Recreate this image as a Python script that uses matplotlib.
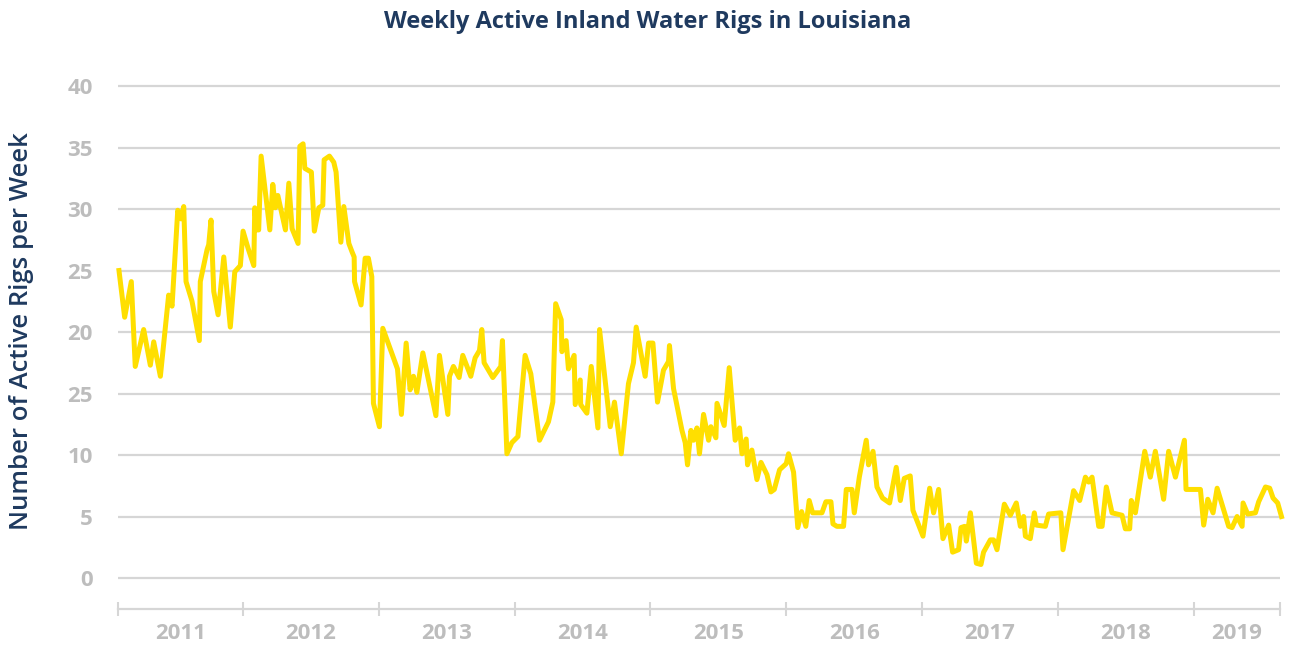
import matplotlib
matplotlib.use("Agg")
import matplotlib.pyplot as plt
import numpy as np

# ---- data (decimal year, active rigs) ----
dates = [
    2011.084, 2011.128, 2011.177, 2011.206, 2011.268, 2011.317, 2011.342, 2011.391,
    2011.452, 2011.477, 2011.519, 2011.543, 2011.563, 2011.580, 2011.624, 2011.678,
    2011.685, 2011.735, 2011.747, 2011.764, 2011.784, 2011.816, 2011.858, 2011.906,
    2011.939, 2011.980, 2012.000, 2012.037, 2012.079, 2012.086, 2012.100, 2012.115,
    2012.133, 2012.197, 2012.219, 2012.238, 2012.256, 2012.312, 2012.337, 2012.361,
    2012.405, 2012.418, 2012.442, 2012.455, 2012.503, 2012.525, 2012.558, 2012.587,
    2012.597, 2012.636, 2012.668, 2012.685, 2012.720, 2012.742, 2012.779, 2012.803,
    2012.818, 2012.821, 2012.869, 2012.899, 2012.923, 2012.948, 2012.960, 2013.004,
    2013.029, 2013.078, 2013.137, 2013.166, 2013.201, 2013.230, 2013.255, 2013.280,
    2013.324, 2013.420, 2013.446, 2013.508, 2013.520, 2013.549, 2013.591, 2013.618,
    2013.677, 2013.709, 2013.741, 2013.758, 2013.775, 2013.839, 2013.898, 2013.910,
    2013.943, 2013.979, 2014.024, 2014.077, 2014.119, 2014.183, 2014.249, 2014.281,
    2014.302, 2014.343, 2014.348, 2014.379, 2014.396, 2014.438, 2014.446, 2014.483,
    2014.486, 2014.532, 2014.564, 2014.613, 2014.625, 2014.704, 2014.735, 2014.785,
    2014.838, 2014.875, 2014.895, 2014.961, 2014.986, 2015.018, 2015.052, 2015.096,
    2015.133, 2015.140, 2015.170, 2015.232, 2015.256, 2015.273, 2015.298, 2015.317,
    2015.342, 2015.361, 2015.391, 2015.428, 2015.445, 2015.482, 2015.490, 2015.543,
    2015.580, 2015.624, 2015.656, 2015.674, 2015.705, 2015.715, 2015.747, 2015.784,
    2015.814, 2015.858, 2015.887, 2015.912, 2015.951, 2016.000, 2016.017, 2016.054,
    2016.085, 2016.113, 2016.144, 2016.169, 2016.194, 2016.263, 2016.292, 2016.329,
    2016.344, 2016.373, 2016.422, 2016.442, 2016.484, 2016.501, 2016.538, 2016.589,
    2016.606, 2016.639, 2016.668, 2016.709, 2016.761, 2016.810, 2016.840, 2016.869,
    2016.913, 2016.933, 2017.007, 2017.056, 2017.085, 2017.122, 2017.154, 2017.196,
    2017.225, 2017.269, 2017.287, 2017.314, 2017.326, 2017.356, 2017.400, 2017.434,
    2017.453, 2017.503, 2017.527, 2017.552, 2017.606, 2017.650, 2017.694, 2017.724,
    2017.748, 2017.761, 2017.797, 2017.827, 2017.842, 2017.908, 2017.932, 2018.022,
    2018.038, 2018.116, 2018.161, 2018.203, 2018.227, 2018.252, 2018.301, 2018.326,
    2018.357, 2018.399, 2018.473, 2018.497, 2018.529, 2018.541, 2018.571, 2018.640,
    2018.681, 2018.718, 2018.779, 2018.816, 2018.866, 2018.932, 2018.944, 2019.050,
    2019.074, 2019.104, 2019.143, 2019.173, 2019.258, 2019.283, 2019.320, 2019.357,
    2019.364, 2019.398, 2019.455, 2019.479, 2019.529, 2019.560, 2019.585, 2019.619,
    2019.652,
]
rigs = [
    25.2, 21.2, 24.1, 17.2, 20.2, 17.3, 19.2, 16.4,
    23.0, 22.1, 29.9, 29.2, 30.2, 24.1, 22.5, 19.3,
    24.1, 26.7, 27.1, 29.1, 23.3, 21.4, 26.1, 20.4,
    24.9, 25.4, 28.2, 26.8, 25.4, 30.1, 28.3, 28.3,
    34.3, 28.3, 32.0, 30.1, 31.1, 28.3, 32.1, 28.4,
    27.2, 35.1, 35.3, 33.3, 33.0, 28.2, 30.1, 30.3,
    34.0, 34.3, 33.8, 33.0, 27.3, 30.2, 27.2, 26.5,
    26.1, 24.1, 22.2, 26.0, 26.0, 24.5, 14.2, 12.3,
    20.3, 18.8, 17.0, 13.3, 19.1, 15.3, 16.4, 15.1,
    18.3, 13.2, 18.1, 13.3, 16.4, 17.2, 16.3, 18.1,
    16.4, 17.9, 18.5, 20.2, 17.5, 16.3, 17.2, 19.3,
    10.1, 11.0, 11.5, 18.1, 16.6, 11.2, 12.7, 14.3,
    22.3, 21.0, 18.4, 19.3, 17.0, 18.1, 14.1, 16.1,
    14.1, 13.4, 17.2, 12.2, 20.2, 12.3, 14.3, 10.1,
    15.8, 17.5, 20.4, 16.4, 19.1, 19.1, 14.3, 16.9,
    17.6, 18.9, 15.4, 12.0, 11.0, 9.2, 12.0, 11.2,
    12.2, 10.1, 13.3, 11.2, 12.3, 11.4, 14.2, 12.4,
    17.1, 11.2, 12.2, 10.1, 11.3, 9.2, 10.4, 8.0,
    9.4, 8.4, 7.0, 7.2, 8.8, 9.3, 10.1, 8.6,
    4.1, 5.4, 4.2, 6.3, 5.3, 5.3, 6.2, 6.2,
    4.4, 4.2, 4.2, 7.2, 7.2, 5.3, 8.2, 11.2,
    9.2, 10.3, 7.4, 6.5, 6.1, 9.0, 6.3, 8.1,
    8.3, 5.5, 3.4, 7.3, 5.3, 7.2, 3.2, 4.3,
    2.1, 2.3, 4.1, 4.2, 3.0, 5.3, 1.2, 1.1,
    2.1, 3.1, 3.1, 2.3, 6.0, 5.1, 6.1, 4.2,
    5.0, 3.4, 3.2, 5.3, 4.3, 4.2, 5.2, 5.3,
    2.3, 7.1, 6.3, 8.2, 7.8, 8.2, 4.2, 4.2,
    7.4, 5.3, 5.1, 4.0, 4.0, 6.3, 5.3, 10.3,
    8.2, 10.3, 6.4, 10.3, 8.2, 11.2, 7.2, 7.2,
    4.3, 6.4, 5.3, 7.3, 4.2, 4.1, 5.0, 4.2,
    6.1, 5.2, 5.3, 6.2, 7.4, 7.3, 6.5, 6.1,
    4.8,
]
y_ticks = [0, 5, 10, 15, 20, 25, 30, 35, 40]
y_tick_labels = ["0", "5", "10", "25", "20", "25", "30", "35", "40"]
years = [2011, 2012, 2013, 2014, 2015, 2016, 2017, 2018, 2019]
x_start, x_end = 2011.079, 2019.636

title = "Weekly Active Inland Water Rigs in Louisiana"
ylabel = "Number of Active Rigs per Week"

# ---- style ----
navy = "#1f3a5f"
gold = "#FFDF00"
grid_c = "#d6d6d6"
tick_c = "#bdbdbd"
plt.rcParams["font.family"] = ["Open Sans", "DejaVu Sans"]

fig = plt.figure(figsize=(12.9, 6.46), dpi=100)
ax = fig.add_axes([118 / 1290, 1 - 609 / 646, (1280 - 118) / 1290, (609 - 73.7) / 646])

for yt in y_ticks:
    ax.axhline(yt, color=grid_c, lw=1.6, zorder=1)

ax.plot(dates, rigs, color=gold, lw=3.6, solid_joinstyle="round",
        solid_capstyle="butt", zorder=3, clip_on=False)

ax.set_xlim(x_start, x_end)
ax.set_ylim(-2.52, 41)

ax.set_yticks(y_ticks)
ax.set_yticklabels(y_tick_labels)
ax.tick_params(axis="y", length=0, pad=18, labelsize=16, labelcolor=tick_c)
for lab in ax.get_yticklabels():
    lab.set_fontweight("bold")

major = [x_start] + [float(y) for y in years[1:]] + [x_end]
ax.set_xticks(major)
ax.set_xticklabels([""] * len(major))
mids = [(major[i] + major[i + 1]) / 2 for i in range(len(years))]
ax.set_xticks(mids, minor=True)
ax.set_xticklabels([str(y) for y in years], minor=True)
ax.tick_params(axis="x", which="major", direction="inout", length=10,
               width=1.5, color=grid_c)
ax.tick_params(axis="x", which="minor", length=0, pad=10, labelsize=16,
               labelcolor=tick_c)
for lab in ax.get_xticklabels(minor=True):
    lab.set_fontweight("bold")

for s in ["left", "right", "top"]:
    ax.spines[s].set_visible(False)
ax.spines["bottom"].set_color(grid_c)
ax.spines["bottom"].set_linewidth(1.6)

fig.text(648 / 1290, 1 - 22 / 646, title, ha="center", va="center",
         fontsize=17, fontweight="bold", color=navy)
fig.text(22 / 1290, 1 - 331 / 646, ylabel, ha="center", va="center",
         rotation=90, fontsize=18.5, fontweight="semibold", color=navy)

fig.savefig("out.png", dpi=100)
